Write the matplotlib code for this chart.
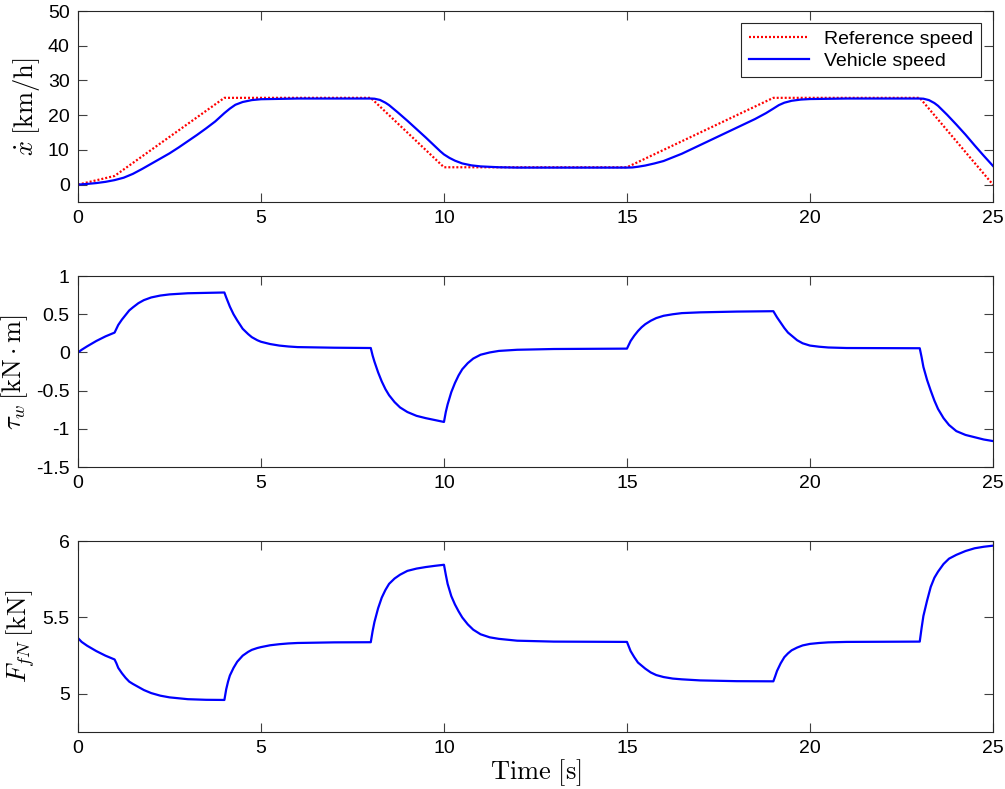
import numpy as np
import matplotlib
matplotlib.use("Agg")
import matplotlib.pyplot as plt

plt.rcParams['font.family'] = ['Liberation Sans', 'DejaVu Sans']
plt.rcParams['mathtext.fontset'] = 'cm'
plt.rcParams['axes.unicode_minus'] = False

# reference speed [km/h]
t_ref = [0, 1, 4, 8, 10, 15, 19, 23, 25]
v_ref = [0, 2.5, 25, 25, 5, 5, 25, 25, 0]

# vehicle speed [km/h]
t_veh = [0, 0.25, 0.5, 0.75, 1, 1.25, 1.5, 1.75, 2, 2.25, 2.5, 2.75, 3, 3.25, 3.5, 3.75,
         4, 4.15, 4.3, 4.5, 4.75, 5, 5.5, 6, 8,
         8.1, 8.25, 8.4, 8.5, 8.75, 9, 9.25, 9.5, 9.75, 9.9, 10, 10.15, 10.3, 10.5, 10.75,
         11, 11.5, 12, 15,
         15.15, 15.3, 15.5, 15.75, 16, 16.5, 17, 17.5, 18, 18.5, 18.8, 19, 19.15, 19.3,
         19.5, 19.75, 20, 21, 23,
         23.1, 23.25, 23.4, 23.5, 23.75, 24, 24.25, 24.5, 24.75, 25]
v_veh = [0, 0.2, 0.45, 0.8, 1.3, 2.0, 3.1, 4.5, 6.0, 7.5, 9.0, 10.7, 12.5, 14.3, 16.2, 18.2,
         20.6, 21.9, 23.0, 23.8, 24.35, 24.6, 24.7, 24.8, 24.8,
         24.75, 24.4, 23.6, 22.9, 20.7, 18.4, 16.0, 13.6, 11.1, 9.6, 8.7, 7.7, 6.9, 6.1, 5.55,
         5.25, 5.0, 4.9, 4.9,
         4.95, 5.15, 5.5, 6.1, 6.8, 8.9, 11.4, 13.9, 16.4, 18.9, 20.6, 21.9, 22.9, 23.6,
         24.15, 24.5, 24.65, 24.8, 24.8,
         24.75, 24.35, 23.5, 22.7, 20.1, 17.3, 14.4, 11.3, 8.3, 5.4]

# wheel torque [kN m]
t_tau = [0, 0.1, 0.25, 0.5, 0.75, 1, 1.05, 1.1, 1.2, 1.3, 1.4, 1.5, 1.65, 1.8, 2, 2.25, 2.5, 3, 3.5, 4,
         4.05, 4.1, 4.15, 4.25, 4.35, 4.5, 4.65, 4.75, 4.9, 5, 5.25, 5.5, 5.75, 6, 7, 8,
         8.05, 8.1, 8.2, 8.3, 8.4, 8.5, 8.65, 8.8, 9, 9.25, 9.5, 9.75, 10,
         10.05, 10.1, 10.2, 10.3, 10.4, 10.5, 10.65, 10.8, 11, 11.25, 11.5, 12, 13, 15,
         15.05, 15.1, 15.2, 15.3, 15.4, 15.5, 15.65, 15.8, 16, 16.25, 16.5, 17, 18, 19,
         19.05, 19.1, 19.2, 19.3, 19.4, 19.5, 19.65, 19.8, 20, 20.25, 20.5, 21, 23,
         23.05, 23.1, 23.2, 23.3, 23.4, 23.5, 23.65, 23.8, 24, 24.25, 24.5, 24.75, 25]
tau_w = [0, 0.035, 0.08, 0.15, 0.21, 0.26, 0.31, 0.36, 0.43, 0.49, 0.55, 0.59, 0.645, 0.685, 0.72, 0.745, 0.76, 0.775, 0.78, 0.785,
         0.72, 0.66, 0.6, 0.5, 0.42, 0.31, 0.24, 0.2, 0.16, 0.14, 0.11, 0.09, 0.078, 0.07, 0.062, 0.058,
         -0.04, -0.12, -0.26, -0.38, -0.48, -0.56, -0.65, -0.72, -0.78, -0.83, -0.86, -0.885, -0.91,
         -0.78, -0.68, -0.52, -0.4, -0.3, -0.22, -0.14, -0.08, -0.03, 0.0, 0.02, 0.035, 0.045, 0.05,
         0.1, 0.15, 0.22, 0.28, 0.33, 0.37, 0.415, 0.45, 0.48, 0.5, 0.515, 0.525, 0.535, 0.54,
         0.5, 0.46, 0.39, 0.32, 0.26, 0.22, 0.16, 0.12, 0.09, 0.075, 0.065, 0.058, 0.055,
         -0.06, -0.19, -0.36, -0.5, -0.63, -0.74, -0.86, -0.95, -1.03, -1.08, -1.11, -1.14, -1.16]

# front normal force [kN]
t_ffn = [0, 0.1, 0.25, 0.5, 0.75, 1, 1.05, 1.1, 1.2, 1.3, 1.4, 1.5, 1.65, 1.8, 2, 2.25, 2.5, 3, 3.5, 4,
         4.05, 4.1, 4.15, 4.25, 4.35, 4.5, 4.65, 4.75, 4.9, 5, 5.25, 5.5, 5.75, 6, 7, 8,
         8.05, 8.1, 8.2, 8.3, 8.4, 8.5, 8.65, 8.8, 9, 9.25, 9.5, 9.75, 10,
         10.05, 10.1, 10.2, 10.3, 10.4, 10.5, 10.65, 10.8, 11, 11.25, 11.5, 12, 13, 15,
         15.05, 15.1, 15.2, 15.3, 15.4, 15.5, 15.65, 15.8, 16, 16.25, 16.5, 17, 18, 19,
         19.05, 19.1, 19.2, 19.3, 19.4, 19.5, 19.65, 19.8, 20, 20.25, 20.5, 21, 23,
         23.05, 23.1, 23.2, 23.3, 23.4, 23.5, 23.65, 23.8, 24, 24.25, 24.5, 24.75, 25]
f_fn = [5.365, 5.34, 5.315, 5.28, 5.25, 5.225, 5.2, 5.17, 5.135, 5.105, 5.08, 5.065, 5.045, 5.025, 5.005, 4.988, 4.977, 4.965, 4.961, 4.96,
        5.03, 5.08, 5.12, 5.17, 5.21, 5.25, 5.275, 5.288, 5.3, 5.306, 5.318, 5.325, 5.33, 5.333, 5.337, 5.338,
        5.41, 5.47, 5.56, 5.63, 5.68, 5.72, 5.755, 5.78, 5.805, 5.82, 5.83, 5.838, 5.845,
        5.78, 5.72, 5.64, 5.585, 5.54, 5.5, 5.455, 5.42, 5.39, 5.37, 5.36, 5.348, 5.342, 5.34,
        5.31, 5.28, 5.24, 5.205, 5.185, 5.165, 5.14, 5.123, 5.11, 5.1, 5.095, 5.088, 5.083, 5.082,
        5.115, 5.15, 5.2, 5.24, 5.265, 5.285, 5.303, 5.317, 5.327, 5.333, 5.337, 5.34, 5.342,
        5.43, 5.51, 5.61, 5.7, 5.76, 5.8, 5.85, 5.885, 5.91, 5.935, 5.953, 5.963, 5.97]

fig = plt.figure(figsize=(10.05, 7.89), dpi=100)
left, width, height = 0.0776, 0.9104, 0.242
ax1 = fig.add_axes([left, 0.744, width, height])
ax2 = fig.add_axes([left, 0.4081, width, height])
ax3 = fig.add_axes([left, 0.0722, width, height])

for ax in (ax1, ax2, ax3):
    ax.set_xlim(0, 25)
    ax.set_xticks([0, 5, 10, 15, 20, 25])
    ax.tick_params(direction='in', length=6.5, width=0.8, top=True, right=True,
                   labelsize=14, color='#404040', pad=6)
    for s in ax.spines.values():
        s.set_linewidth(0.8)
        s.set_color('#262626')

ax1.plot(t_ref, v_ref, color='#ff0000', linestyle=(0, (0.9, 0.9)), linewidth=1.6,
         label='Reference speed')
ax1.plot(t_veh, v_veh, color='#0000ff', linewidth=1.6, label='Vehicle speed')
ax1.set_ylim(-5, 50)
ax1.set_yticks([0, 10, 20, 30, 40, 50])
ax1.set_ylabel(r'$\dot{x}\;[\mathrm{km/h}]$', fontsize=19, labelpad=4)
leg = ax1.legend(loc='upper right', fontsize=14, fancybox=False, framealpha=1,
                 edgecolor='#262626', handlelength=3.1, borderaxespad=0.6,
                 labelspacing=0.2)
leg.get_frame().set_linewidth(0.8)

ax2.plot(t_tau, tau_w, color='#0000ff', linewidth=1.6)
ax2.set_ylim(-1.5, 1)
ax2.set_yticks([-1.5, -1, -0.5, 0, 0.5, 1])
ax2.set_yticklabels(['-1.5', '-1', '-0.5', '0', '0.5', '1'])
ax2.set_ylabel(r'$\tau_w\,[\mathrm{kN\cdot m}]$', fontsize=19, labelpad=4)

ax3.plot(t_ffn, f_fn, color='#0000ff', linewidth=1.6)
ax3.set_ylim(4.75, 6)
ax3.set_yticks([5, 5.5, 6])
ax3.set_yticklabels(['5', '5.5', '6'])
ax3.set_ylabel(r'$F_{fN}\,[\mathrm{kN}]$', fontsize=19, labelpad=4)
ax3.set_xlabel(r'$\mathrm{Time\ [s]}$', fontsize=19, labelpad=0)

fig.savefig('out.png', dpi=100)
